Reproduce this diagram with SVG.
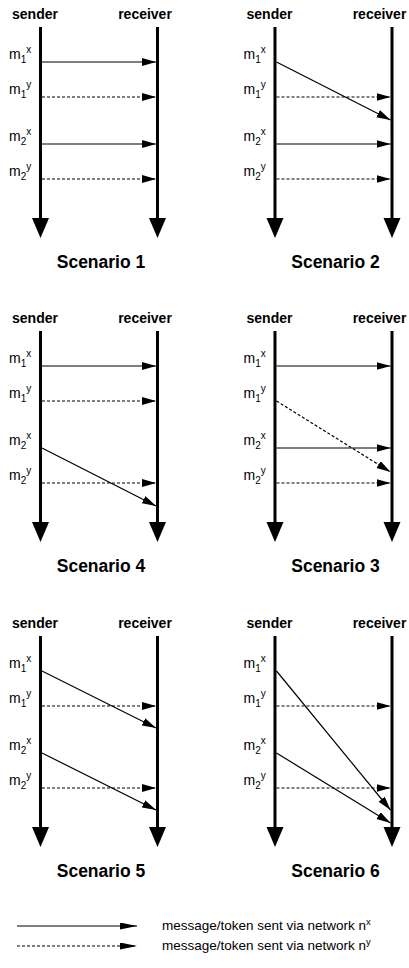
<svg xmlns="http://www.w3.org/2000/svg" width="409" height="968" viewBox="0 0 409 968">
<style>
  text { font-family: "Liberation Sans", Arial, sans-serif; fill: #000; }
  .hdr { font-size: 14px; font-weight: bold; text-anchor: middle; }
  .ttl { font-size: 17.5px; font-weight: bold; text-anchor: middle; }
  .lbl { font-size: 14px; }
  .sm { font-size: 10px; }
  .lsm { font-size: 9.5px; }
  .leg { font-size: 13.5px; }
  .life { stroke: #000; stroke-width: 3; fill: none; marker-end: url(#lifeHead); }
  .mx { stroke: #000; stroke-width: 1.2; fill: none; marker-end: url(#msgHead); }
  .my { stroke: #000; stroke-width: 1.2; fill: none; stroke-dasharray: 3 2; marker-end: url(#msgHead); }
  .lx { stroke: #000; stroke-width: 1.2; fill: none; marker-end: url(#legHead); }
  .ly { stroke: #000; stroke-width: 1.2; fill: none; stroke-dasharray: 3 2; marker-end: url(#legHead); }
</style>
<defs>
  <marker id="msgHead" markerUnits="userSpaceOnUse" markerWidth="15" markerHeight="9" refX="14" refY="4" orient="auto">
    <path d="M0,0 L14,4 L0,8 z" fill="#000"/>
  </marker>
  <marker id="legHead" markerUnits="userSpaceOnUse" markerWidth="18" markerHeight="9" refX="17" refY="3.5" orient="auto">
    <path d="M0,0 L17,3.5 L0,7 z" fill="#000"/>
  </marker>
  <marker id="lifeHead" markerUnits="userSpaceOnUse" markerWidth="21" markerHeight="18" refX="0" refY="8.5" orient="auto">
    <path d="M0,0 L20,8.5 L0,17 z" fill="#000"/>
  </marker>
</defs>

<!-- Scenario 1 -->
<g id="scenario1">
  <g id="s1-sender"><text class="hdr" x="35" y="18.5">sender</text><line class="life" x1="40.5" y1="27" x2="40.5" y2="218"/></g>
  <g id="s1-receiver"><text class="hdr" x="145" y="18.5">receiver</text><line class="life" x1="157.5" y1="27" x2="157.5" y2="218"/></g>
  <g id="s1-labels">
    <text class="lbl" x="9" y="59">m<tspan class="sm" dy="4">1</tspan><tspan class="sm" dy="-10">x</tspan></text>
    <text class="lbl" x="9" y="94">m<tspan class="sm" dy="4">1</tspan><tspan class="sm" dy="-10">y</tspan></text>
    <text class="lbl" x="9" y="141">m<tspan class="sm" dy="4">2</tspan><tspan class="sm" dy="-10">x</tspan></text>
    <text class="lbl" x="9" y="176">m<tspan class="sm" dy="4">2</tspan><tspan class="sm" dy="-10">y</tspan></text>
  </g>
  <g id="s1-connectors">
    <line class="mx" x1="42" y1="62" x2="156" y2="62"/>
    <line class="my" x1="42" y1="97" x2="156" y2="97"/>
    <line class="mx" x1="42" y1="144" x2="156" y2="144"/>
    <line class="my" x1="42" y1="179" x2="156" y2="179"/>
  </g>
  <text class="ttl" x="101" y="268">Scenario 1</text>
</g>

<!-- Scenario 2 -->
<g id="scenario2" transform="translate(234.5,0)">
  <g id="s2-sender"><text class="hdr" x="35" y="18.5">sender</text><line class="life" x1="40.5" y1="27" x2="40.5" y2="218"/></g>
  <g id="s2-receiver"><text class="hdr" x="145" y="18.5">receiver</text><line class="life" x1="157.5" y1="27" x2="157.5" y2="218"/></g>
  <g id="s2-labels">
    <text class="lbl" x="9" y="59">m<tspan class="sm" dy="4">1</tspan><tspan class="sm" dy="-10">x</tspan></text>
    <text class="lbl" x="9" y="94">m<tspan class="sm" dy="4">1</tspan><tspan class="sm" dy="-10">y</tspan></text>
    <text class="lbl" x="9" y="141">m<tspan class="sm" dy="4">2</tspan><tspan class="sm" dy="-10">x</tspan></text>
    <text class="lbl" x="9" y="176">m<tspan class="sm" dy="4">2</tspan><tspan class="sm" dy="-10">y</tspan></text>
  </g>
  <g id="s2-connectors">
    <line class="mx" x1="42" y1="62" x2="156" y2="120"/>
    <line class="my" x1="42" y1="97" x2="156" y2="97"/>
    <line class="mx" x1="42" y1="144" x2="156" y2="144"/>
    <line class="my" x1="42" y1="179" x2="156" y2="179"/>
  </g>
  <text class="ttl" x="101" y="268">Scenario 2</text>
</g>

<!-- Scenario 4 -->
<g id="scenario4" transform="translate(0,304)">
  <g id="s4-sender"><text class="hdr" x="35" y="18.5">sender</text><line class="life" x1="40.5" y1="27" x2="40.5" y2="218"/></g>
  <g id="s4-receiver"><text class="hdr" x="145" y="18.5">receiver</text><line class="life" x1="157.5" y1="27" x2="157.5" y2="218"/></g>
  <g id="s4-labels">
    <text class="lbl" x="9" y="59">m<tspan class="sm" dy="4">1</tspan><tspan class="sm" dy="-10">x</tspan></text>
    <text class="lbl" x="9" y="94">m<tspan class="sm" dy="4">1</tspan><tspan class="sm" dy="-10">y</tspan></text>
    <text class="lbl" x="9" y="141">m<tspan class="sm" dy="4">2</tspan><tspan class="sm" dy="-10">x</tspan></text>
    <text class="lbl" x="9" y="176">m<tspan class="sm" dy="4">2</tspan><tspan class="sm" dy="-10">y</tspan></text>
  </g>
  <g id="s4-connectors">
    <line class="mx" x1="42" y1="62" x2="156" y2="62"/>
    <line class="my" x1="42" y1="97" x2="156" y2="97"/>
    <line class="mx" x1="42" y1="144" x2="156" y2="202"/>
    <line class="my" x1="42" y1="179" x2="156" y2="179"/>
  </g>
  <text class="ttl" x="101" y="268">Scenario 4</text>
</g>

<!-- Scenario 3 -->
<g id="scenario3" transform="translate(234.5,304)">
  <g id="s3-sender"><text class="hdr" x="35" y="18.5">sender</text><line class="life" x1="40.5" y1="27" x2="40.5" y2="218"/></g>
  <g id="s3-receiver"><text class="hdr" x="145" y="18.5">receiver</text><line class="life" x1="157.5" y1="27" x2="157.5" y2="218"/></g>
  <g id="s3-labels">
    <text class="lbl" x="9" y="59">m<tspan class="sm" dy="4">1</tspan><tspan class="sm" dy="-10">x</tspan></text>
    <text class="lbl" x="9" y="94">m<tspan class="sm" dy="4">1</tspan><tspan class="sm" dy="-10">y</tspan></text>
    <text class="lbl" x="9" y="141">m<tspan class="sm" dy="4">2</tspan><tspan class="sm" dy="-10">x</tspan></text>
    <text class="lbl" x="9" y="176">m<tspan class="sm" dy="4">2</tspan><tspan class="sm" dy="-10">y</tspan></text>
  </g>
  <g id="s3-connectors">
    <line class="mx" x1="42" y1="62" x2="156" y2="62"/>
    <line class="my" x1="42" y1="97" x2="156" y2="168"/>
    <line class="mx" x1="42" y1="144" x2="156" y2="144"/>
    <line class="my" x1="42" y1="179" x2="156" y2="179"/>
  </g>
  <text class="ttl" x="101" y="268">Scenario 3</text>
</g>

<!-- Scenario 5 -->
<g id="scenario5" transform="translate(0,609)">
  <g id="s5-sender"><text class="hdr" x="35" y="18.5">sender</text><line class="life" x1="40.5" y1="27" x2="40.5" y2="218"/></g>
  <g id="s5-receiver"><text class="hdr" x="145" y="18.5">receiver</text><line class="life" x1="157.5" y1="27" x2="157.5" y2="218"/></g>
  <g id="s5-labels">
    <text class="lbl" x="9" y="59">m<tspan class="sm" dy="4">1</tspan><tspan class="sm" dy="-10">x</tspan></text>
    <text class="lbl" x="9" y="94">m<tspan class="sm" dy="4">1</tspan><tspan class="sm" dy="-10">y</tspan></text>
    <text class="lbl" x="9" y="141">m<tspan class="sm" dy="4">2</tspan><tspan class="sm" dy="-10">x</tspan></text>
    <text class="lbl" x="9" y="176">m<tspan class="sm" dy="4">2</tspan><tspan class="sm" dy="-10">y</tspan></text>
  </g>
  <g id="s5-connectors">
    <line class="mx" x1="42" y1="62" x2="156" y2="119"/>
    <line class="my" x1="42" y1="97" x2="156" y2="97"/>
    <line class="mx" x1="42" y1="144" x2="156" y2="201"/>
    <line class="my" x1="42" y1="179" x2="156" y2="179"/>
  </g>
  <text class="ttl" x="101" y="268">Scenario 5</text>
</g>

<!-- Scenario 6 -->
<g id="scenario6" transform="translate(234.5,609)">
  <g id="s6-sender"><text class="hdr" x="35" y="18.5">sender</text><line class="life" x1="40.5" y1="27" x2="40.5" y2="218"/></g>
  <g id="s6-receiver"><text class="hdr" x="145" y="18.5">receiver</text><line class="life" x1="157.5" y1="27" x2="157.5" y2="218"/></g>
  <g id="s6-labels">
    <text class="lbl" x="9" y="59">m<tspan class="sm" dy="4">1</tspan><tspan class="sm" dy="-10">x</tspan></text>
    <text class="lbl" x="9" y="94">m<tspan class="sm" dy="4">1</tspan><tspan class="sm" dy="-10">y</tspan></text>
    <text class="lbl" x="9" y="141">m<tspan class="sm" dy="4">2</tspan><tspan class="sm" dy="-10">x</tspan></text>
    <text class="lbl" x="9" y="176">m<tspan class="sm" dy="4">2</tspan><tspan class="sm" dy="-10">y</tspan></text>
  </g>
  <g id="s6-connectors">
    <line class="mx" x1="42" y1="62" x2="156" y2="201"/>
    <line class="my" x1="42" y1="97" x2="156" y2="97"/>
    <line class="mx" x1="42" y1="144" x2="156" y2="214"/>
    <line class="my" x1="42" y1="179" x2="156" y2="179"/>
  </g>
  <text class="ttl" x="101" y="268">Scenario 6</text>
</g>

<!-- Legend -->
<g id="legend">
  <g id="legend-connectors">
    <line class="lx" x1="17" y1="926" x2="137" y2="926"/>
    <line class="ly" x1="17" y1="946" x2="137" y2="946"/>
  </g>
  <text class="leg" x="162" y="930">message/token sent via network n<tspan class="lsm" dy="-5">x</tspan></text>
  <text class="leg" x="162" y="950">message/token sent via network n<tspan class="lsm" dy="-5">y</tspan></text>
</g>
</svg>
